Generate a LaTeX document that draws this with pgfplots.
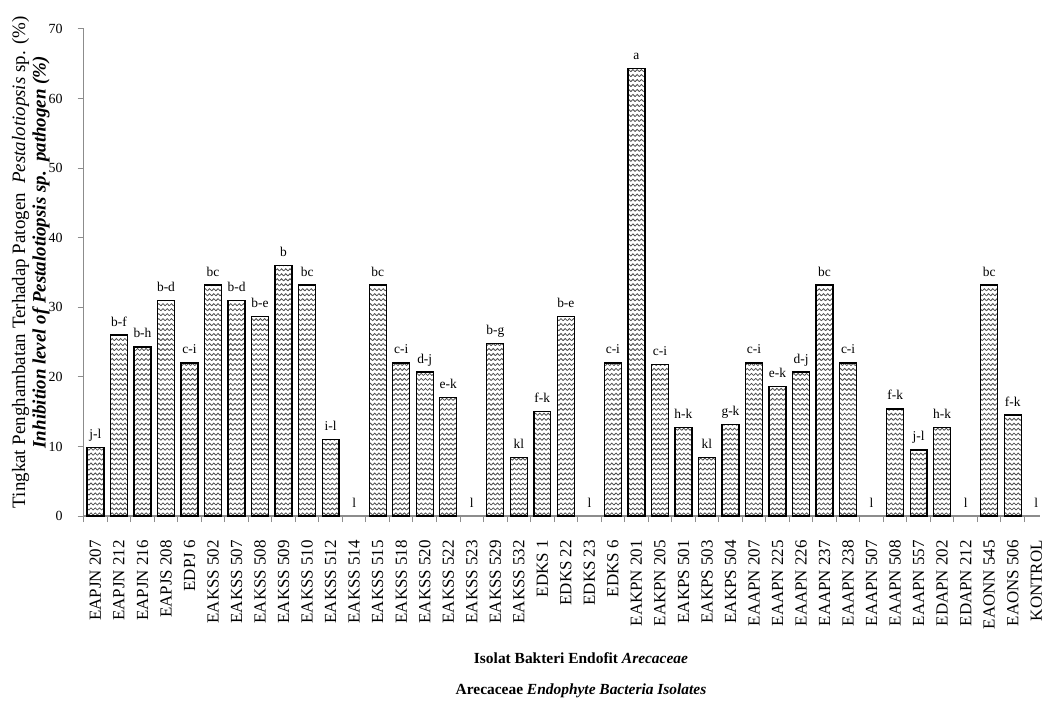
\documentclass[border=0pt]{standalone}
\usepackage{pgfplots}
\pgfplotsset{compat=1.18}
\usepackage{pgfplotstable}
\usepackage{fontspec}
\setmainfont{Liberation Serif}
\usetikzlibrary{patterns}
\pgfdeclarepatternformonly{zz}{\pgfqpoint{-1bp}{-1bp}}{\pgfqpoint{5.25bp}{6bp}}{\pgfqpoint{4.25bp}{5bp}}{
  \pgfsetlinewidth{0.8bp}
  \pgfpathmoveto{\pgfqpoint{0bp}{1bp}}
  \pgfpathlineto{\pgfqpoint{2.125bp}{3.2bp}}
  \pgfpathlineto{\pgfqpoint{4.25bp}{1bp}}
  \pgfusepath{stroke}}
\definecolor{axgray}{RGB}{140,140,140}
\pgfplotstableread{
x y lab
0 9.8 j-l
1 26.0 b-f
2 24.3 b-h
3 31.0 b-d
4 22.0 c-i
5 33.2 bc
6 31.0 b-d
7 28.7 b-e
8 36.0 b
9 33.2 bc
10 11.0 i-l
12 33.2 bc
13 22.0 c-i
14 20.7 d-j
15 17.0 e-k
17 24.8 b-g
18 8.4 kl
19 15.0 f-k
20 28.7 b-e
22 22.0 c-i
23 64.3 a
24 21.8 c-i
25 12.7 h-k
26 8.4 kl
27 13.2 g-k
28 22.0 c-i
29 18.6 e-k
30 20.7 d-j
31 33.2 bc
32 22.0 c-i
34 15.4 f-k
35 9.5 j-l
36 12.7 h-k
38 33.2 bc
39 14.5 f-k
}\datatable
\pgfplotstableread{
x y lab
11 0 l
16 0 l
21 0 l
33 0 l
37 0 l
40 0 l
}\zerotable
\begin{document}
\begin{tikzpicture}
\begin{axis}[
  scale only axis,
  width=960bp, height=489bp,
  xmin=-0.5, xmax=40.16,
  ymin=0, ymax=70,
  axis lines*=left,
  axis line style={axgray, line width=1.2bp},
  ytick={0,10,...,70},
  tick align=outside,
  tick style={axgray, line width=1bp},
  major tick length=6bp,
  minor tick length=6bp,
  xtick={0,...,40},
  x tick style={draw=none},
  minor xtick={-0.5,0.5,...,40.5},
  minor x tick style={draw=axgray, line width=1bp},
  xticklabels={EAPJN 207,EAPJN 212,EAPJN 216,EAPJS 208,EDPJ 6,EAKSS 502,EAKSS 507,EAKSS 508,EAKSS 509,EAKSS 510,EAKSS 512,EAKSS 514,EAKSS 515,EAKSS 518,EAKSS 520,EAKSS 522,EAKSS 523,EAKSS 529,EAKSS 532,EDKS 1,EDKS 22,EDKS 23,EDKS 6,EAKPN 201,EAKPN 205,EAKPS 501,EAKPS 503,EAKPS 504,EAAPN 207,EAAPN 225,EAAPN 226,EAAPN 237,EAAPN 238,EAAPN 507,EAAPN 508,EAAPN 557,EDAPN 202,EDAPN 212,EAONN 545,EAONS 506,KONTROL},
  /pgf/number format/assume math mode=true,
  xticklabel style={yshift=-18bp, rotate=90, anchor=east, font=\fontsize{17bp}{20bp}\selectfont, inner sep=0pt},
  yticklabel style={font=\fontsize{14bp}{16bp}\selectfont, inner sep=0pt, xshift=-15bp},
  xlabel={\textbf{Isolat Bakteri Endofit \textit{Arecaceae}}\\[13bp]\textbf{Arecaceae \textit{Endophyte Bacteria Isolates}}},
  xlabel style={at={(axis description cs:0.52,0)}, anchor=north, yshift=-137bp, align=center, inner sep=0pt, font=\fontsize{15.5bp}{18bp}\selectfont},
  ylabel={Tingkat Penghambatan Terhadap Patogen\ \ \textit{Pestalotiopsis} sp. (\%)\\\hspace*{20bp}\textbf{\textit{Inhibition level of Pestalotiopsis sp.\ \ pathogen (\%)}}},
  ylabel style={at={(axis description cs:-0.0354,0.521)}, anchor=south, align=center, inner sep=0pt, font=\fontsize{19bp}{20.5bp}\selectfont},
  clip=false,
]
\addplot[ybar, bar width=0.72, draw=black, line width=1.3bp, pattern=zz, pattern color=black!70,
  point meta=explicit symbolic,
  nodes near coords,
  every node near coord/.append style={anchor=base, yshift=9bp, inner sep=0pt, font=\fontsize{13.5bp}{16bp}\selectfont, text=black}]
  table[x=x, y=y, meta=lab] {\datatable};
\addplot[draw=none, mark=none,
  point meta=explicit symbolic,
  nodes near coords,
  every node near coord/.append style={anchor=base, yshift=9bp, inner sep=0pt, font=\fontsize{13.5bp}{16bp}\selectfont, text=black}]
  table[x=x, y=y, meta=lab] {\zerotable};
\end{axis}
\pgfresetboundingbox
\useasboundingbox (-84bp,-185bp) rectangle (964bp,518bp);
\end{tikzpicture}
\end{document}
